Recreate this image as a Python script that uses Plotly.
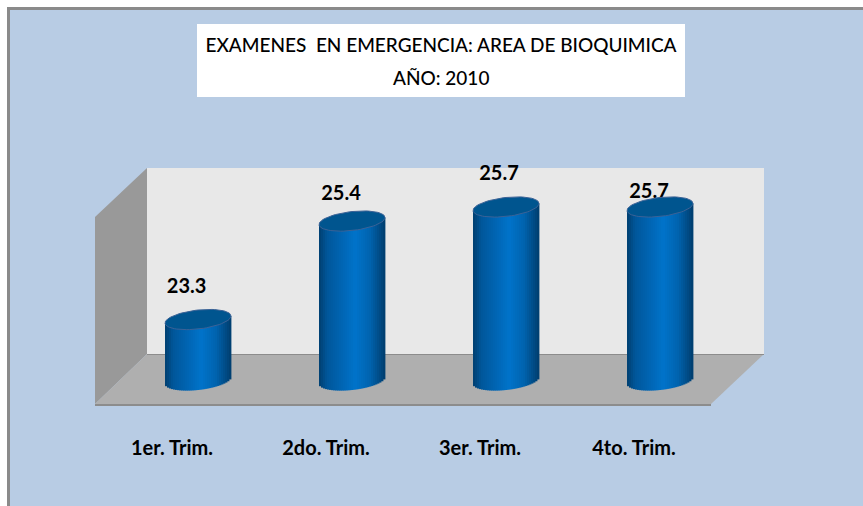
import math
import plotly.graph_objects as go

categories = ["1er. Trim.", "2do. Trim.", "3er. Trim.", "4to. Trim."]
values = [23.3, 25.4, 25.7, 25.7]
title_line1 = "EXAMENES\u00a0\u00a0EN EMERGENCIA: AREA DE BIOQUIMICA"
title_line2 = "AÑO: 2010"
label_dx_px = [-11.4, -11, -7, -11]
label_dy_px = [31.5, 25.6, 32, 14]

W, H = 863, 506
L, R, T, B = 95, 711, 150, 404
BASE = 22.0
PX_UNIT = 46.9
BASE_PY = 380.5
CAT_PX = 154.0
BAR_HALF = 33.0
TILT = 3.5
MINOR = 9.5
FONT = "Lato"


def X(px):
    return (px - L) / (R - L)


def Y(py):
    return (B - py) / (B - T)


def poly(pts, fill, line=None, lw=0):
    path = "M " + " L ".join(f"{X(a):.5f},{Y(b):.5f}" for a, b in pts) + " Z"
    return dict(type="path", xref="paper", yref="paper", path=path, fillcolor=fill,
                line=dict(color=line or fill, width=lw), layer="below")


def hexmix(a, b, t):
    ca = [int(a[i:i + 2], 16) for i in (1, 3, 5)]
    cb = [int(b[i:i + 2], 16) for i in (1, 3, 5)]
    return "#" + "".join(f"{round(x + (y - x) * t):02x}" for x, y in zip(ca, cb))


stops = [(-1.0, "#003f70"), (-0.75, "#00569a"), (0.1, "#0073ca"), (0.55, "#0063ae"), (1.0, "#003e6e")]


def shade(u):
    for (u0, c0), (u1, c1) in zip(stops, stops[1:]):
        if u <= u1:
            return hexmix(c0, c1, (u - u0) / (u1 - u0))
    return stops[-1][1]


fig = go.Figure()

# invisible trace that carries the front axis with its labels
fig.add_trace(go.Scatter(x=list(range(len(categories))), y=values, mode="markers",
                         marker=dict(opacity=0), hoverinfo="skip", showlegend=False))

# cylinder bodies as thin vertical strips
N = 33
strip = 2 * BAR_HALF / N
for i in range(N):
    u = (i + 0.5) / N * 2 - 1
    low = BASE + (TILT * u - MINOR * math.sqrt(max(0.0, 1 - u * u))) / PX_UNIT
    tops = [v + TILT * u / PX_UNIT for v in values]
    fig.add_trace(go.Bar(
        x=list(range(len(values))), y=[t - low for t in tops], base=low,
        width=(strip + 0.4) / CAT_PX, offset=(-BAR_HALF + i * strip) / CAT_PX,
        marker=dict(color=shade(u), line=dict(width=0)), xaxis="x2", yaxis="y",
        hoverinfo="skip", showlegend=False))

# value labels (drawn before the lids: the fourth is partly hidden by its lid)
fig.add_trace(go.Scatter(
    x=[i + dx / CAT_PX for i, dx in enumerate(label_dx_px)],
    y=[v + dy / PX_UNIT for v, dy in zip(values, label_dy_px)],
    mode="text", text=[f"{v:.1f}" for v in values], textposition="middle center",
    textfont=dict(family=FONT, size=20, color="#000000", weight=700), xaxis="x2", yaxis="y",
    cliponaxis=False, hoverinfo="skip", showlegend=False))

# cylinder lids
for i, v in enumerate(values):
    ts = [2 * math.pi * k / 72 for k in range(73)]
    fig.add_trace(go.Scatter(
        x=[i + BAR_HALF * math.cos(t) / CAT_PX for t in ts],
        y=[v + (TILT * math.cos(t) + MINOR * math.sin(t)) / PX_UNIT for t in ts],
        mode="lines", fill="toself", fillcolor="#00558f",
        line=dict(color="#3b6296", width=1), xaxis="x2", yaxis="y",
        hoverinfo="skip", showlegend=False))

shapes = [
    dict(type="rect", xref="paper", yref="paper", x0=X(7), x1=X(W), y0=Y(7), y1=Y(H),
         fillcolor="#8a8a8a", line=dict(width=0), layer="below"),
    dict(type="rect", xref="paper", yref="paper", x0=X(10), x1=X(W), y0=Y(10), y1=Y(H),
         fillcolor="#b8cce4", line=dict(width=0), layer="below"),
    dict(type="rect", xref="paper", yref="paper", x0=X(197), x1=X(685), y0=Y(24), y1=Y(97),
         fillcolor="#ffffff", line=dict(width=0), layer="below"),
    poly([(147, 168), (764, 168), (764, 354), (147, 354)], "#e8e8e8"),
    poly([(95, 217), (147, 168), (147, 354), (95, 404)], "#999999"),
    poly([(147, 354), (764, 354), (711, 404), (95, 404)], "#afafaf"),
    dict(type="line", xref="paper", yref="paper", x0=X(147), x1=X(764), y0=Y(354.5), y1=Y(354.5),
         line=dict(color="#8c8c8c", width=1), layer="below"),
    dict(type="line", xref="paper", yref="paper", x0=X(95), x1=X(711), y0=Y(405), y1=Y(405),
         line=dict(color="#8c8c8c", width=2), layer="below"),
]

fig.update_layout(
    width=W, height=H, autosize=False,
    margin=dict(l=L, r=W - R, t=T, b=H - B, pad=0),
    paper_bgcolor="#ffffff", plot_bgcolor="rgba(0,0,0,0)",
    barmode="overlay", showlegend=False, shapes=shapes,
    title=dict(text=title_line1, x=441 / W, xanchor="center", y=1 - 45 / H, yanchor="middle",
               font=dict(family=FONT, size=19, color="#000000", weight=500)),
    annotations=[dict(text=title_line2, xref="paper", yref="paper", x=X(441), y=Y(77),
                      xanchor="center", yanchor="middle", showarrow=False,
                      font=dict(family=FONT, size=19, color="#000000", weight=500))],
    xaxis=dict(range=[-0.5, 3.5], tickmode="array", tickvals=list(range(len(categories))),
               ticktext=categories, showgrid=False, zeroline=False, showline=False, ticks="",
               ticklabelstandoff=30, tickfont=dict(family=FONT, size=20, color="#000000", weight=700)),
    xaxis2=dict(overlaying="x", range=[(L - 198) / CAT_PX, (R - 198) / CAT_PX], visible=False),
    yaxis=dict(range=[BASE - (B - BASE_PY) / PX_UNIT, BASE + (BASE_PY - T) / PX_UNIT],
               visible=False),
)

fig.write_html("out.html", config=dict(displayModeBar=False),
               post_script="document.body.style.margin='0';")
